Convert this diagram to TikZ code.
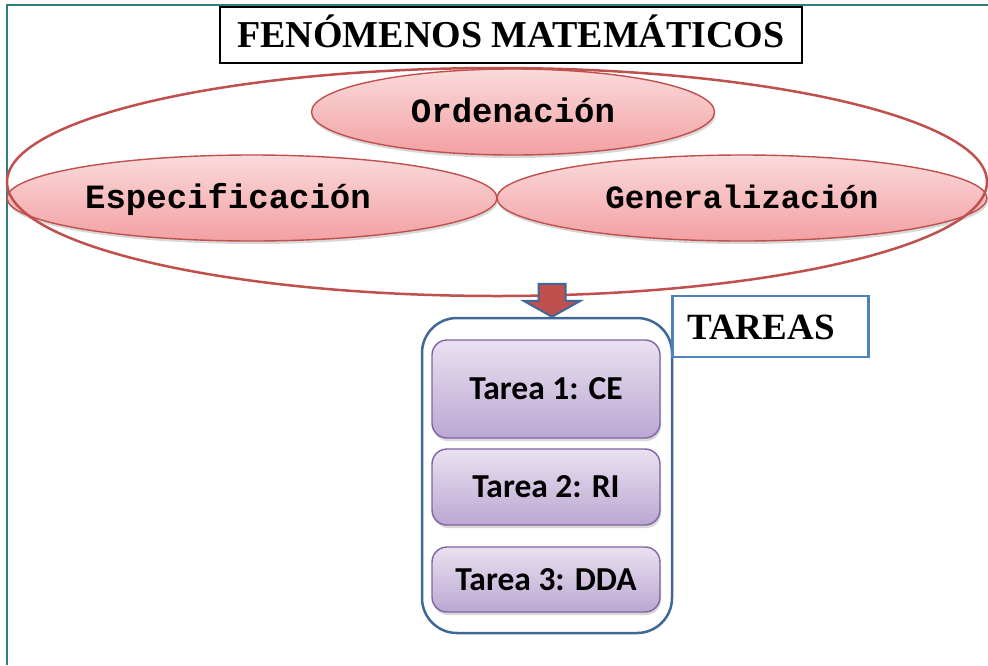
\documentclass[tikz,border=0pt]{standalone}
\usepackage{fontspec}
\setmainfont{Liberation Serif}
\newfontfamily\monof{Liberation Mono}
\newfontfamily\carl{Carlito}
\usetikzlibrary{shapes.geometric,shadows}
\definecolor{framecol}{HTML}{2F807A}
\definecolor{redline}{HTML}{C0504D}
\definecolor{pinktop}{HTML}{FADADB}
\definecolor{pinkbot}{HTML}{F3A0A2}
\definecolor{purpline}{HTML}{8064A2}
\definecolor{lavtop}{HTML}{E9E1F1}
\definecolor{lavbot}{HTML}{BBA7D2}
\definecolor{contblue}{HTML}{3F6797}
\definecolor{boxblue}{HTML}{4F81BD}
\begin{document}
\begin{tikzpicture}[x=1pt,y=-1pt,
  pinkell/.style={ellipse, draw=redline, line width=1.4pt, top color=pinktop, bottom color=pinkbot,
    drop shadow={opacity=0.3, shadow xshift=1pt, shadow yshift=-3pt},
    inner sep=0pt, minimum height=86pt, text height=20pt, text depth=0pt},
  monotext/.style={font=\monof\bfseries\fontsize{34}{40}\selectfont},
  taskbox/.style={rectangle, rounded corners=15pt, draw=purpline, line width=1.4pt,
    top color=lavtop, bottom color=lavbot,
    drop shadow={opacity=0.3, shadow xshift=1pt, shadow yshift=-3pt},
    minimum width=228pt, inner sep=0pt, text height=21pt, text depth=0pt,
    font=\carl\bfseries\fontsize{33.5}{40}\selectfont},
  titlebox/.style={rectangle, draw=black, line width=1.3pt, inner sep=0pt,
    text height=25pt, text depth=0pt, font=\bfseries\fontsize{38}{44}\selectfont}
]
\useasboundingbox (0,0) rectangle (988,665);
\fill[white] (0,0) rectangle (988,665);
\draw[framecol, line width=2pt] (7,665) -- (7,5) -- (988,5);

\node[titlebox, minimum width=582pt, minimum height=56pt] (title) at (511,35) {FENÓMENOS MATEMÁTICOS};

\node[pinkell, monotext, minimum width=403pt] (ord) at (513,112) {Ordenación};
\node[pinkell, minimum width=490pt] (esp) at (252,198) {};
\node[monotext, inner sep=0pt, text height=20pt, text depth=0pt] (esptext) at ([xshift=-24pt]esp.center) {Especificación};
\node[pinkell, minimum width=490pt, font=\monof\bfseries\fontsize{32.5}{40}\selectfont] (gen) at (742,198) {Generalización};

\node[ellipse, draw=redline, line width=2.5pt, minimum width=980pt, minimum height=228pt, inner sep=0pt] (fen) at (497,182) {};

\node[rectangle, rounded corners=35pt, draw=contblue, line width=2.5pt, minimum width=250pt, minimum height=315pt, inner sep=0pt] (tar) at (547,475.5) {};

\draw[fill=redline, draw=contblue, line width=2pt, line join=miter]
  ([xshift=5pt]tar.north) -- ++(-28.5,-16) -- ++(15,0) -- ++(0,-17) -- ++(27,0) -- ++(0,17) -- ++(15,0) -- cycle;

\node[taskbox, minimum height=98pt] (t1) at (546,389) {Tarea 1: CE};
\node[taskbox, minimum height=76pt] (t2) at (546,487) {Tarea 2: RI};
\node[taskbox, minimum height=65pt] (t3) at (546,579.5) {Tarea 3: DDA};

\node[rectangle, draw=boxblue, line width=2.5pt, anchor=west, minimum height=61pt,
  text width=166pt, inner xsep=15pt, inner ysep=0pt, align=left,
  text height=25pt, text depth=0pt, font=\bfseries\fontsize{37}{44}\selectfont] (tareas) at (671,326.5) {TAREAS};
\end{tikzpicture}
\end{document}
